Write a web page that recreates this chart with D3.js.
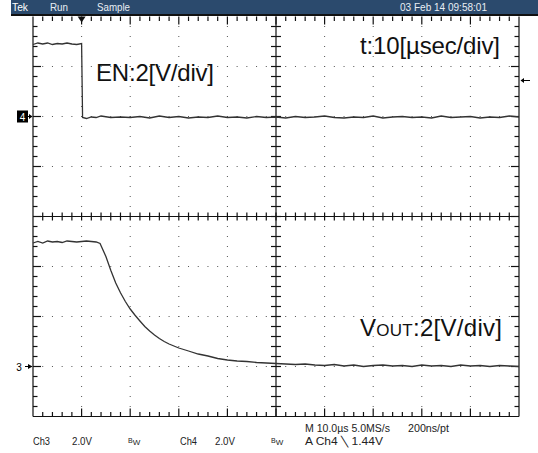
<!DOCTYPE html>
<html>
<head>
<meta charset="utf-8">
<script src="https://cdn.jsdelivr.net/npm/d3@7"></script>
<style>
  body { margin: 0; background: #fff; }
  svg { display: block; }
</style>
</head>
<body>
<script>
// time axis (µs), trigger at 0
const timeRange = [-10, 90];

// Ch4 : EN, 2V/div
const enTime = [-10, -9, -8, -7, -6, -5, -4, -3, -2, -1, 0, 0.2, 1, 2, 3, 4, 6, 8, 10, 12, 14, 16, 18, 20, 22, 24, 26, 28, 30, 32, 34, 36, 38, 40, 42, 44, 46, 48, 50, 52, 54, 56, 58, 60, 62, 64, 66, 68, 70, 72, 74, 76, 78, 80, 82, 84, 86, 88, 90];
const enVolt = [2.88, 2.94, 2.90, 2.94, 2.88, 2.92, 2.90, 2.94, 2.90, 2.88, 2.92, -0.04, -0.08, -0.02, -0.04, 0.02, -0.04, -0.02, -0.04, 0.00, -0.06, 0.02, -0.04, 0.00, -0.06, -0.02, -0.04, 0.02, -0.04, -0.02, -0.06, 0.00, -0.04, -0.02, -0.06, 0.00, -0.04, -0.02, 0.02, -0.04, -0.06, -0.02, -0.04, 0.02, -0.06, -0.02, 0.00, -0.04, -0.02, -0.06, 0.02, -0.04, -0.02, 0.00, -0.06, -0.02, -0.04, 0.02, -0.02];

// Ch3 : VOUT, 2V/div
const voutTime = [-10, -9, -8, -7, -6, -5, -4, -3, -2, -1, 0, 1, 2, 3, 3.8, 5, 6, 7, 8, 9, 10, 11, 12, 13, 14, 15, 16, 17, 18, 19, 20, 21, 22, 24, 26, 28, 30, 32, 34, 36, 38, 40, 42, 44, 46, 48, 50, 52, 54, 56, 58, 60, 62, 64, 66, 68, 70, 72, 74, 76, 78, 80, 82, 84, 86, 88, 90];
const voutVolt = [4.94, 5.00, 4.94, 5.02, 4.98, 5.00, 4.96, 5.02, 5.00, 4.98, 5.00, 5.02, 5.00, 4.98, 4.92, 4.40, 3.85, 3.35, 2.95, 2.60, 2.30, 2.05, 1.82, 1.60, 1.42, 1.26, 1.12, 1.00, 0.90, 0.82, 0.74, 0.68, 0.62, 0.50, 0.42, 0.32, 0.26, 0.22, 0.20, 0.16, 0.14, 0.12, 0.10, 0.08, 0.10, 0.06, 0.04, 0.08, 0.02, 0.06, 0.00, 0.04, 0.06, 0.02, 0.04, 0.00, 0.06, 0.02, 0.04, 0.00, 0.06, 0.02, 0.04, 0.00, 0.04, 0.02, 0.00];

// channel ground positions (volts at frame bottom / top)
const ch4Domain = [-12, 4];
const ch3Domain = [-2, 14];
const trigLevel = 1.44;

const W = 538, H = 453;
const x0 = 33, x1 = 519, y0 = 16.5, y1 = 416.5;
const nx = 10, ny = 8;
const dx = (x1 - x0) / nx, dy = (y1 - y0) / ny;

const svg = d3.select('body').append('svg')
    .attr('width', W)
    .attr('height', H)

const x = d3.scaleLinear().domain(timeRange).range([x0, x1])
const y4 = d3.scaleLinear().domain(ch4Domain).range([y1, y0])
const y3 = d3.scaleLinear().domain(ch3Domain).range([y1, y0])

// small helper: condensed text squeezed to a given width
function label(g, str, px, py, width) {
    return g.append('text').attr('x', px).attr('y', py)
        .attr('textLength', width).attr('lengthAdjust', 'spacingAndGlyphs')
        .text(str)
}

// header bar
svg.append('rect').attr('x', 11).attr('y', 0).attr('width', W - 11).attr('height', 15).attr('fill', '#2b4a6d')
svg.append('rect').attr('x', 11).attr('y', 14).attr('width', W - 11).attr('height', 2).attr('fill', '#111')

const head = svg.append('g')
    .attr('font-family', 'Arial, "Liberation Sans", sans-serif')
    .attr('font-size', 11)
    .attr('fill', '#e8eef4')
label(head, 'Tek', 12, 10.5, 16).attr('fill', '#fff')
label(head, 'Run', 50, 10.5, 18)
label(head, 'Sample', 97, 10.5, 33)
label(head, '03 Feb 14 09:58:01', 400, 10.5, 87)

// dotted grid
const grid = svg.append('g').attr('fill', '#555')
for (let i = 1; i < nx; i++) {
    if (i === nx / 2) continue
    for (let j = 1; j < ny * 5; j++) {
        grid.append('rect').attr('x', x0 + i * dx - 0.5).attr('y', y0 + j * dy / 5 - 0.5).attr('width', 1).attr('height', 1)
    }
}
for (let j = 1; j < ny; j++) {
    if (j === ny / 2) continue
    for (let i = 1; i < nx * 5; i++) {
        grid.append('rect').attr('x', x0 + i * dx / 5 - 0.5).attr('y', y0 + j * dy - 0.5).attr('width', 1).attr('height', 1)
    }
}

// frame and center cross
const frame = svg.append('g').attr('stroke', '#111').attr('stroke-width', 1.2).attr('fill', 'none')
frame.append('line').attr('x1', x0).attr('x2', x0).attr('y1', y0).attr('y2', y1)
frame.append('line').attr('x1', x1).attr('x2', x1).attr('y1', y0).attr('y2', y1)
frame.append('line').attr('x1', x0).attr('x2', x1).attr('y1', y1).attr('y2', y1)
const xc = (x0 + x1) / 2, yc = (y0 + y1) / 2
frame.append('line').attr('x1', xc).attr('x2', xc).attr('y1', y0).attr('y2', y1)
frame.append('line').attr('x1', x0).attr('x2', x1).attr('y1', yc).attr('y2', yc)

// ticks
for (let i = 1; i < nx * 5; i++) {
    const px = x0 + i * dx / 5
    const len = i % 5 === 0 ? 8 : 4.5
    frame.append('line').attr('x1', px).attr('x2', px).attr('y1', y0).attr('y2', y0 + len)
    frame.append('line').attr('x1', px).attr('x2', px).attr('y1', y1).attr('y2', y1 - len)
    frame.append('line').attr('x1', px).attr('x2', px).attr('y1', yc - 4).attr('y2', yc + 4)
}
for (let j = 1; j < ny * 5; j++) {
    const py = y0 + j * dy / 5
    const len = j % 5 === 0 ? 8 : 4.5
    frame.append('line').attr('x1', x0).attr('x2', x0 + len).attr('y1', py).attr('y2', py)
    frame.append('line').attr('x1', x1).attr('x2', x1 - len).attr('y1', py).attr('y2', py)
    frame.append('line').attr('x1', xc - 5).attr('x2', xc + 5).attr('y1', py).attr('y2', py)
}

// trigger position marker
svg.append('path')
    .attr('d', `M${x(0) - 4},${y0} L${x(0) + 4},${y0} L${x(0)},${y0 + 6} Z`)
    .attr('fill', '#111')

// traces
const line4 = d3.line().x((d, i) => x(enTime[i])).y(d => y4(d))
const line3 = d3.line().x((d, i) => x(voutTime[i])).y(d => y3(d))
svg.append('path').datum(enVolt).attr('d', line4)
    .attr('fill', 'none').attr('stroke', '#333').attr('stroke-width', 1.3)
svg.append('path').datum(voutVolt).attr('d', line3)
    .attr('fill', 'none').attr('stroke', '#333').attr('stroke-width', 1.3)

// channel ground markers
const g4 = svg.append('g')
g4.append('rect').attr('x', 17).attr('y', y4(0) - 6).attr('width', 11).attr('height', 12).attr('fill', '#000')
g4.append('text').attr('x', 22.5).attr('y', y4(0) + 4).attr('text-anchor', 'middle')
    .attr('font-family', 'Arial, sans-serif').attr('font-size', 10).attr('fill', '#fff').text('4')
g4.append('path').attr('d', `M27,${y4(0)} L32,${y4(0)}`).attr('stroke', '#000').attr('stroke-width', 1)
g4.append('path').attr('d', `M29,${y4(0) - 2.5} L32.5,${y4(0)} L29,${y4(0) + 2.5} Z`).attr('fill', '#000')

const g3 = svg.append('g')
g3.append('text').attr('x', 19).attr('y', y3(0) + 4).attr('text-anchor', 'middle')
    .attr('font-family', 'Arial, sans-serif').attr('font-size', 10).attr('fill', '#000').text('3')
g3.append('path').attr('d', `M25,${y3(0)} L32,${y3(0)}`).attr('stroke', '#000').attr('stroke-width', 1)
g3.append('path').attr('d', `M28,${y3(0) - 2.5} L32.5,${y3(0)} L28,${y3(0) + 2.5} Z`).attr('fill', '#000')

// trigger level marker (Ch4)
svg.append('path').attr('d', `M521,${y4(trigLevel)} L530,${y4(trigLevel)}`).attr('stroke', '#000').attr('stroke-width', 1)
svg.append('path').attr('d', `M524,${y4(trigLevel) - 2.5} L520.5,${y4(trigLevel)} L524,${y4(trigLevel) + 2.5} Z`).attr('fill', '#000')

// annotations
const ann = svg.append('g').attr('font-family', 'Arial, "Liberation Sans", sans-serif').attr('font-size', 24).attr('fill', '#111')
ann.append('text').attr('x', 96).attr('y', 81).attr('textLength', 118).text('EN:2[V/div]')
ann.append('text').attr('x', 360).attr('y', 54).attr('textLength', 140).text('t:10[µsec/div]')
const vt = ann.append('text').attr('x', 360).attr('y', 336).attr('textLength', 142)
vt.append('tspan').text('V')
vt.append('tspan').attr('font-size', 17).text('OUT')
vt.append('tspan').text(':2[V/div]')

// status line
const st = svg.append('g')
    .attr('font-family', 'Arial, "Liberation Sans", sans-serif')
    .attr('font-size', 10)
    .attr('fill', '#222')
label(st, 'Ch3', 33, 445, 17)
label(st, '2.0V', 72, 445, 20)
st.append('text').attr('x', 128).attr('y', 443).attr('font-size', 7).text('B').append('tspan').attr('font-size', 8).attr('dy', 2).text('W')
label(st, 'Ch4', 180, 445, 17)
label(st, '2.0V', 215, 445, 20)
st.append('text').attr('x', 271).attr('y', 443).attr('font-size', 7).text('B').append('tspan').attr('font-size', 8).attr('dy', 2).text('W')
label(st, 'A  Ch4  \u2572  1.44V', 305, 445, 78)
label(st, 'M 10.0µs 5.0MS/s', 305, 432, 85)
label(st, '200ns/pt', 408, 432, 41)
</script>
</body>
</html>
